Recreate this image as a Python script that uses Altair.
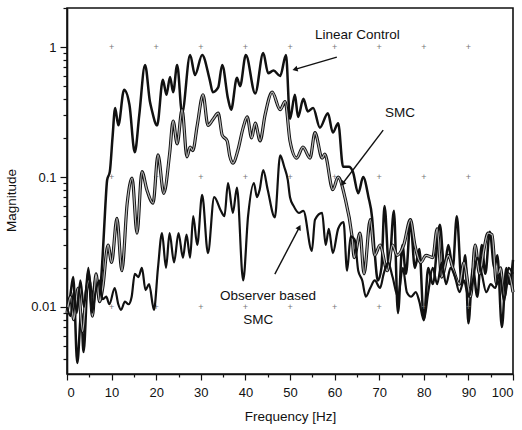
import altair as alt
import pandas as pd

# ---------------- data ----------------
lin_f = [0, 0.7, 1.4, 2.3, 3.2, 3.7, 4.8, 5.6, 6.5, 7.2, 8.0, 8.6, 9.0, 9.6, 10.2, 10.8, 11.5, 12.8,
         14.0, 15.2, 16.2, 17.5, 18.6, 19.0, 20.2, 21.5, 22.3, 23.1, 23.8, 24.7, 25.8, 27.6, 28.7,
         30.3, 32.0, 32.7, 33.9, 34.8, 36.1, 36.8, 38.1, 38.8, 40.1, 42.2, 44.0, 45.1, 46.3, 47.8,
         49.1, 50.0, 51.1, 51.8, 53.0, 54.0, 55.2, 56.7, 58.5, 59.6, 60.8, 61.9, 63.2, 64.1, 65.3,
         66.4, 67.6, 68.4, 69.0, 69.7, 70.5, 71.2, 72.2, 73.3, 74.2, 75.2, 76.0, 77.0, 78.0, 79.0,
         80.0, 81.0, 82.0, 83.6, 84.6, 85.5, 86.5, 87.4, 88.5, 89.3, 90.0, 91.0, 92.0, 93.0, 93.8,
         94.8, 95.8, 96.5, 97.5, 98.5, 99.2, 100]
lin_m = [0.0095, 0.012, 0.017, 0.0037, 0.009, 0.0045, 0.019, 0.012, 0.017, 0.012, 0.025, 0.06, 0.095,
         0.11, 0.2, 0.34, 0.25, 0.47, 0.36, 0.155, 0.3, 0.73, 0.38, 0.33, 0.25, 0.56, 0.43, 0.59, 0.45,
         0.73, 0.31, 0.87, 0.61, 0.87, 0.56, 0.45, 0.49, 0.73, 0.40, 0.33, 0.58, 0.5, 0.87, 0.44, 0.90,
         0.63, 0.66, 0.60, 0.87, 0.28, 0.43, 0.29, 0.40, 0.32, 0.34, 0.24, 0.31, 0.22, 0.26, 0.12,
         0.12, 0.11, 0.075, 0.1, 0.07, 0.049, 0.026, 0.016, 0.02, 0.06, 0.02, 0.055, 0.009, 0.03,
         0.018, 0.045, 0.02, 0.028, 0.008, 0.02, 0.015, 0.043, 0.02, 0.03, 0.02, 0.05, 0.015, 0.025,
         0.0075, 0.02, 0.012, 0.03, 0.018, 0.038, 0.02, 0.025, 0.007, 0.02, 0.015, 0.023]

smc_f = [0, 0.8, 1.5, 2.5, 3.5, 4.3, 5.0, 5.7, 6.5, 7.3, 8.0, 9.2, 10.0, 11.2, 12.3, 13.5, 14.6, 15.7,
         16.8, 17.9, 19.3, 20.4, 21.7, 23.0, 23.8, 24.7, 25.8, 26.9, 27.6, 28.2, 29.2, 30.5, 31.6,
         32.8, 33.9, 34.8, 35.9, 36.5, 37.2, 38.3, 39.5, 40.4, 41.4, 42.2, 43.3, 44.4, 46.0, 47.8,
         48.9, 50.0, 51.5, 52.9, 54.5, 55.6, 57.2, 57.8, 59.6, 60.8, 62.3, 63.9, 64.4, 65.7, 66.6,
         68.0, 69.0, 70.2, 71.8, 73.0, 74.0, 75.5, 77.0, 78.0, 79.3, 80.5, 82.0, 83.0, 84.0, 85.5,
         86.5, 88.0, 89.0, 90.5, 91.5, 92.5, 93.5, 94.4, 95.3, 96.3, 97.2, 98.0, 99.0, 100]
smc_m = [0.009, 0.012, 0.008, 0.014, 0.0065, 0.013, 0.016, 0.0085, 0.018, 0.011, 0.014, 0.03, 0.022,
         0.048, 0.019, 0.063, 0.098, 0.037, 0.11, 0.08, 0.063, 0.148, 0.075, 0.15, 0.27, 0.18, 0.33,
         0.143, 0.17, 0.16, 0.25, 0.43, 0.25, 0.28, 0.31, 0.21, 0.19, 0.145, 0.128, 0.16, 0.24, 0.29,
         0.2, 0.26, 0.19, 0.3, 0.45, 0.33, 0.38, 0.19, 0.14, 0.17, 0.14, 0.22, 0.14, 0.15, 0.08, 0.1,
         0.07, 0.035, 0.024, 0.037, 0.018, 0.047, 0.025, 0.03, 0.019, 0.03, 0.025, 0.03, 0.047, 0.03,
         0.022, 0.025, 0.024, 0.04, 0.017, 0.025, 0.02, 0.015, 0.022, 0.012, 0.03, 0.018, 0.028,
         0.037, 0.036, 0.015, 0.02, 0.012, 0.018, 0.013]

obs_f = [0, 0.8, 1.5, 2.2, 3.0, 3.8, 4.8, 5.6, 6.4, 7.2, 8.0, 8.8, 9.5, 10.7, 11.5, 12.1, 13.0, 13.8,
         14.5, 15.2, 16.0, 16.8, 17.6, 18.4, 19.5, 20.4, 21.3, 22.2, 23.0, 24.0, 25.0, 26.0, 26.8,
         27.6, 28.3, 29.2, 30.3, 31.6, 33.0, 34.5, 35.3, 36.1, 37.2, 38.1, 39.5, 40.6, 41.9, 42.6,
         43.2, 44.0, 45.0, 46.6, 47.8, 48.7, 49.5, 50.0, 50.8, 52.0, 53.0, 54.9, 55.6, 57.2, 58.0,
         58.7, 59.6, 60.8, 62.0, 62.8, 63.6, 64.5, 65.3, 66.2, 67.0, 68.0, 69.0, 70.2, 71.0, 72.0,
         73.0, 74.2, 75.3, 76.2, 77.2, 78.2, 79.0, 80.0, 81.0, 82.0, 83.0, 84.0, 85.0, 86.0, 87.0,
         88.0, 89.0, 90.0, 91.0, 92.0, 93.0, 94.0, 95.0, 96.0, 97.0, 98.0, 99.0, 100]
obs_m = [0.01, 0.0085, 0.013, 0.009, 0.016, 0.01, 0.02, 0.009, 0.013, 0.016, 0.0115, 0.012, 0.0105,
         0.014, 0.0105, 0.0095, 0.011, 0.0105, 0.012, 0.018, 0.017, 0.02, 0.0135, 0.015, 0.0095,
         0.02, 0.037, 0.02, 0.037, 0.022, 0.037, 0.024, 0.036, 0.024, 0.05, 0.03, 0.073, 0.026, 0.07,
         0.055, 0.05, 0.09, 0.053, 0.083, 0.016, 0.05, 0.09, 0.07, 0.08, 0.113, 0.08, 0.049, 0.147,
         0.12, 0.095, 0.07, 0.06, 0.053, 0.055, 0.027, 0.047, 0.053, 0.03, 0.04, 0.026, 0.04, 0.045,
         0.019, 0.035, 0.033, 0.019, 0.016, 0.012, 0.014, 0.016, 0.014, 0.018, 0.022, 0.017, 0.012,
         0.02, 0.013, 0.012, 0.013, 0.011, 0.0079, 0.013, 0.02, 0.015, 0.022, 0.015, 0.02, 0.017,
         0.013, 0.016, 0.012, 0.016, 0.024, 0.018, 0.013, 0.015, 0.014, 0.018, 0.011, 0.02, 0.018]

# annotations (data units)
ann_text = ["Linear Control", "SMC", "Observer based", "SMC"]
ann_f = [55.6, 71.3, 34.3, 39.5]
ann_m = [1.24, 0.31, 0.0122, 0.0080]

arrow_f1 = [60.5, 70.9, 46.6]
arrow_m1 = [0.838, 0.230, 0.0179]
arrow_f2 = [51.3, 61.9, 52.0]
arrow_m2 = [0.677, 0.090, 0.0405]
arrow_angle = [254, 217, 27]

grid_x = [10, 20, 30, 40, 50, 60, 70, 80, 90]
grid_y = [1, 0.1, 0.01]

# ---------------- tables ----------------
lin = pd.DataFrame({"f": lin_f, "m": lin_m})
smc = pd.DataFrame({"f": smc_f, "m": smc_m})
obs = pd.DataFrame({"f": obs_f, "m": obs_m})
ann = pd.DataFrame({"t": ann_text, "f": ann_f, "m": ann_m})
arr = pd.DataFrame({"f": arrow_f1, "m": arrow_m1, "f2": arrow_f2, "m2": arrow_m2, "a": arrow_angle})
heads = pd.DataFrame({"f": arrow_f2, "m": arrow_m2, "a": arrow_angle})
grd = pd.DataFrame([{"f": gx, "m": gy} for gx in grid_x for gy in grid_y])

FONT = "Liberation Sans"

y_vals = [0.004, 0.005, 0.006, 0.007, 0.008, 0.009, 0.01, 0.02, 0.03, 0.04, 0.05, 0.06, 0.07, 0.08,
          0.09, 0.1, 0.2, 0.3, 0.4, 0.5, 0.6, 0.7, 0.8, 0.9, 1, 2]
major_y = "datum.value == 1 || datum.value == 0.1 || datum.value == 0.01"

xscale = alt.Scale(domain=[0, 100], nice=False, zero=False)
yscale = alt.Scale(type="log", domain=[0.00305, 2.0], nice=False)

xaxis = alt.Axis(
    values=list(range(0, 101, 5)),
    labelExpr="datum.value % 10 == 0 ? datum.label : ''",
    format="d", grid=False, labelOverlap=False,
    tickSize={"condition": {"test": "datum.value % 10 == 0", "value": 6}, "value": 3},
    title="Frequency [Hz]", titleX=223, titleY=42, titleBaseline="middle",
    titleFontWeight="normal", titleFont=FONT, titleFontSize=13.5, titleColor="#111",
    labelPadding=6, labelFont=FONT, labelFontSize=13, labelColor="#111",
    domainColor="#111", domainWidth=1.6, tickColor="#111", tickWidth=1.2,
)
yaxis = alt.Axis(
    values=y_vals, grid=False, labelOverlap=False,
    labelExpr="datum.value == 1 ? '1' : datum.value == 0.1 ? '0.1' : datum.value == 0.01 ? '0.01' : ''",
    tickSize={"condition": {"test": major_y, "value": 7}, "value": 4},
    title="Magnitude", titleX=-56, titleY=192, titleBaseline="middle",
    titleFontWeight="normal", titleFont=FONT, titleFontSize=13.5, titleColor="#111",
    labelPadding=4, labelFont=FONT, labelFontSize=13, labelColor="#111",
    domainColor="#111", domainWidth=1.6, tickColor="#111", tickWidth=1.2,
)

X = alt.X("f:Q", scale=xscale, axis=xaxis)
Y = alt.Y("m:Q", scale=yscale, axis=yaxis)

lin_line = alt.Chart(lin).mark_line(color="#111", strokeWidth=2.5, interpolate="monotone").encode(x=X, y=Y)
grid_layer = alt.Chart(grd).mark_text(text="+", fontSize=9, fill="#777", font=FONT).encode(x=X, y=Y)
smc_outline = alt.Chart(smc).mark_line(color="#111", strokeWidth=3.2, interpolate="monotone").encode(x=X, y=Y)
smc_inner = alt.Chart(smc).mark_line(color="#b8b8b8", strokeWidth=1.3, interpolate="monotone").encode(x=X, y=Y)
obs_line = alt.Chart(obs).mark_line(color="#111", strokeWidth=2.2, interpolate="monotone").encode(x=X, y=Y)

text_layer = alt.Chart(ann).mark_text(align="left", baseline="middle", fontSize=13.5, font=FONT,
                                      fill="#111").encode(x=X, y=Y, text="t:N")
arrow_lines = alt.Chart(arr).mark_rule(color="#111", strokeWidth=1.4).encode(
    x=X, y=Y, x2="f2:Q", y2="m2:Q")
arrow_heads = alt.Chart(heads).mark_point(shape="triangle", filled=True, color="#111", size=35,
                                          opacity=1).encode(x=X, y=Y, angle=alt.Angle("a:Q", scale=None))

chart = alt.layer(
    lin_line, grid_layer, smc_outline, smc_inner, obs_line, text_layer, arrow_lines, arrow_heads
).properties(
    width=446, height=366,
    background="white",
    autosize=alt.AutoSizeParams(type="none"),
    padding={"left": 67, "top": 8, "right": 9, "bottom": 56},
).configure_view(
    stroke="#111", strokeWidth=1.6
)

chart.save("out.html", embed_options={"renderer": "svg", "actions": False})
